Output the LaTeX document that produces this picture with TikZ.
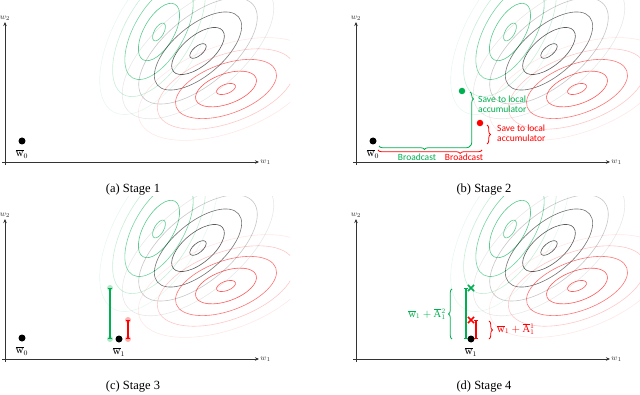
\documentclass[tikz,border=0pt]{standalone}
\usepackage{fontspec}
\setmainfont{Liberation Serif}
\newfontfamily\calibri{Carlito}
\usetikzlibrary{arrows.meta,decorations.pathreplacing,shapes.misc}

\definecolor{grn}{RGB}{0,176,80}
\definecolor{rd}{RGB}{255,0,0}

\tikzset{
  axisline/.style={line width=0.9pt, black!80, -{Stealth[length=4pt,width=3.5pt]}},
  ring/.style={line width=0.6pt},
  dot/.style={circle, fill=#1, inner sep=0pt, minimum size=7pt},
  dot/.default=black,
  lbl/.style={font=\calibri\fontsize{9.5}{10.5}\selectfont, align=left, inner sep=0pt},
  wlabel/.style={font=\fontsize{10.5}{11}\selectfont, inner sep=0pt},
  axlabel/.style={font=\fontsize{8}{9}\selectfont, inner sep=1pt},
  brc/.style={decorate, decoration={brace, amplitude=3.5pt, aspect=#1}, line width=0.8pt},
  brc/.default=0.5,
  meas/.style={line width=1.2pt, {Bar[width=4pt]}-{Bar[width=4pt]}},
  xmark/.style={cross out, draw=#1, line width=1.6pt, inner sep=0pt, minimum size=4.5pt},
  capt/.style={font=\fontsize{12.5}{14}\selectfont}
}

% one family of level sets: centre, angle, colour
\newcommand\ringset[3]{%
  \foreach \r/\o in {10/0.65,32/0.65,53/0.55,72/0.22,92/0.09}
    \draw[ring, #3, opacity=\o, rotate around={#2:#1}] #1 ellipse [x radius=\r, y radius=\r*0.47];
}

% axes, level sets and caption of one stage
\newcommand\stagebase[2]{%
  \begin{scope}
    \clip (-5,-12) rectangle (285,162);
    \ringset{(154,130)}{60}{grn}
    \ringset{(193,111)}{40}{black}
    \ringset{(221,73)}{20}{rd}
  \end{scope}
  \draw[axisline] (-3,0) -- (254,0) node[right, axlabel] (#1-x) {$w_1$};
  \draw[axisline] (0,-3) -- (0,140) node[above, axlabel] (#1-y) {$w_2$};
  \node[capt] (#1-cap) at (128,-28) {#2};
}

\begin{document}
\begin{tikzpicture}[x=1pt,y=1pt]
  \useasboundingbox (0,0) rectangle (640,394);

  % stage 1
  \begin{scope}[shift={(5,232)}]
    \stagebase{a}{(a) Stage 1}
    \node[dot] (a-w0) at (17,21) {};
    \node[wlabel] (a-w0l) at (17,8) {$\overline{\mathrm{w}}_0$};
  \end{scope}

  % stage 2
  \begin{scope}[shift={(356,232)}]
    \stagebase{b}{(b) Stage 2}
    \node[dot] (b-w0) at (17,21) {};
    \node[wlabel] (b-w0l) at (17,8) {$\overline{\mathrm{w}}_0$};
    \node[dot=grn, minimum size=6.5pt] (b-g) at (106,71) {};
    \node[dot=rd, minimum size=6.5pt] (b-r) at (124,39) {};
    \coordinate (b-gs) at (23,16);
    \coordinate (b-gc) at (114,16);
    \coordinate (b-gt) at (114,70);
    \coordinate (b-rs) at (22,12);
    \coordinate (b-re) at (126,12);
    \coordinate (b-rt) at (131,37);
    \coordinate (b-rb) at (131,18);
    \draw[grn, brc=0.5] (b-gc) -- (b-gs);
    \draw[grn, brc=0.13] (b-gt) -- (b-gc);
    \draw[rd, brc=0.21] (b-re) -- (b-rs);
    \draw[rd, brc] (b-rt) -- (b-rb);
    \node[lbl, text=grn] (b-gb) at (61,5) {Broadcast};
    \node[lbl, text=rd] (b-rbl) at (108,5) {Broadcast};
    \node[lbl, text=grn, anchor=west] (b-gsave) at (122,58) {Save to local\\accumulator};
    \node[lbl, text=rd, anchor=west] (b-rsave) at (141,29) {Save to local\\accumulator};
  \end{scope}

  % stage 3
  \begin{scope}[shift={(5,35)}]
    \stagebase{c}{(c) Stage 3}
    \node[dot] (c-w0) at (17,21) {};
    \node[wlabel] (c-w0l) at (17,8) {$\overline{\mathrm{w}}_0$};
    \node[dot] (c-w1) at (114,20) {};
    \node[wlabel] (c-w1l) at (114,7) {$\overline{\mathrm{w}}_1$};
    \coordinate (c-gb) at (105,20);
    \coordinate (c-gt) at (105,71);
    \coordinate (c-rb) at (123,20);
    \coordinate (c-rt) at (123,39);
    \foreach \p in {c-gb,c-gt} \fill[grn!30] (\p) circle (3);
    \foreach \p in {c-rb,c-rt} \fill[rd!30] (\p) circle (3);
    \draw[grn, meas] (c-gb) -- (c-gt);
    \draw[rd, meas] (c-rb) -- (c-rt);
  \end{scope}

  % stage 4
  \begin{scope}[shift={(356,35)}]
    \stagebase{d}{(d) Stage 4}
    \node[dot] (d-w1) at (115,20) {};
    \node[wlabel] (d-w1l) at (115,7) {$\overline{\mathrm{w}}_1$};
    \node[xmark=grn] (d-g) at (115,71) {};
    \node[xmark=rd] (d-r) at (115,39) {};
    \coordinate (d-gb) at (110,20);
    \coordinate (d-gt) at (110,71);
    \coordinate (d-rb) at (120,20);
    \coordinate (d-rt) at (120,39);
    \draw[grn, meas] (d-gb) -- (d-gt);
    \draw[rd, meas] (d-rb) -- (d-rt);
    \draw[grn, brc] (96,20) coordinate (d-gbb) -- (96,70) coordinate (d-gbt);
    \draw[rd, brc] (133,38) coordinate (d-rbt) -- (133,20) coordinate (d-rbb);
    \node[wlabel, text=grn, anchor=east] (d-gl) at (90,45)
      {$\overline{\mathrm{w}}_1+\overline{\mathrm{A}}{}_1^2$};
    \node[wlabel, text=rd, anchor=west] (d-rl) at (141,30)
      {$\overline{\mathrm{w}}_1+\overline{\mathrm{A}}{}_1^1$};
  \end{scope}
\end{tikzpicture}
\end{document}
